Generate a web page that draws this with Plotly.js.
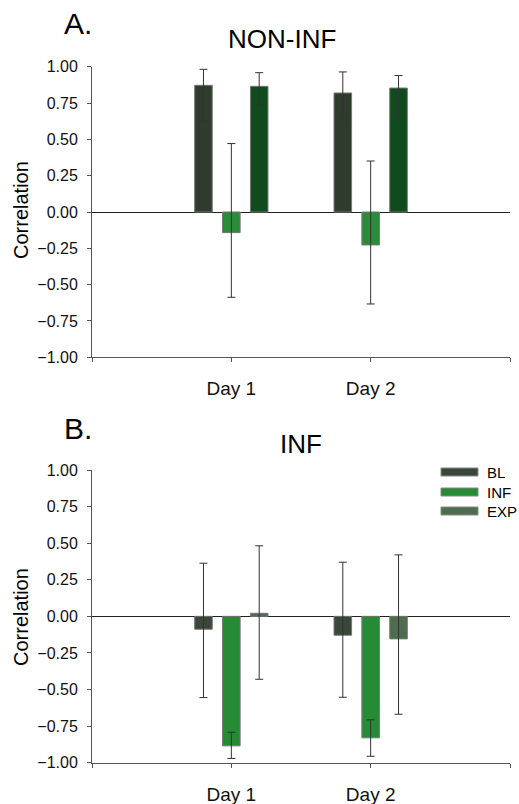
<!DOCTYPE html>
<html>
<head>
<meta charset="utf-8">
<script src="https://cdn.plot.ly/plotly-3.0.1.min.js"></script>
<style>html,body{margin:0;padding:0;background:#fff;}#chart{width:519px;height:804px;}</style>
</head>
<body>
<div id="chart"></div>
<script>
const categories = ['Day 1', 'Day 2'];
const seriesNames = ['BL', 'INF', 'EXP'];

// Panel A: NON-INF
const nonInfBL = [0.872, 0.819];
const nonInfBLUpper = [0.982, 0.964];
const nonInfBLLower = [0.624, 0.636];
const nonInfINF = [-0.142, -0.227];
const nonInfINFUpper = [0.471, 0.351];
const nonInfINFLower = [-0.587, -0.633];
const nonInfEXP = [0.865, 0.853];
const nonInfEXPUpper = [0.959, 0.939];
const nonInfEXPLower = [0.734, 0.654];

// Panel B: INF
const infBL = [-0.088, -0.129];
const infBLUpper = [0.363, 0.370];
const infBLLower = [-0.555, -0.553];
const infINF = [-0.885, -0.830];
const infINFUpper = [-0.792, -0.707];
const infINFLower = [-0.971, -0.956];
const infEXP = [0.021, -0.154];
const infEXPUpper = [0.482, 0.420];
const infEXPLower = [-0.430, -0.669];

const colorsA = ['#2e3b2d', '#2a8c38', '#0f4b1d'];
const colorsB = ['#3a463a', '#258b35', '#4e6c4e'];

const FONT = 'Liberation Sans, Arial, sans-serif';
const W = 519, H = 804;
const px = v => v / W;
const py = v => (H - v) / H;

const xIdx = categories.map((_, i) => i);

function trace(name, vals, upper, lower, color, xa, ya) {
  return {
    type: 'bar', name: name, x: xIdx, y: vals, xaxis: xa, yaxis: ya,
    showlegend: false,
    marker: {color: color, line: {color: '#777', width: 1}},
    error_y: {
      type: 'data', symmetric: false,
      array: upper.map((u, i) => u - vals[i]),
      arrayminus: vals.map((v, i) => v - lower[i]),
      color: '#333', thickness: 1, width: 4
    },
    hoverinfo: 'x+y'
  };
}

const data = [
  trace(seriesNames[0], nonInfBL, nonInfBLUpper, nonInfBLLower, colorsA[0], 'x', 'y'),
  trace(seriesNames[1], nonInfINF, nonInfINFUpper, nonInfINFLower, colorsA[1], 'x', 'y'),
  trace(seriesNames[2], nonInfEXP, nonInfEXPUpper, nonInfEXPLower, colorsA[2], 'x', 'y'),
  trace(seriesNames[0], infBL, infBLUpper, infBLLower, colorsB[0], 'x2', 'y2'),
  trace(seriesNames[1], infINF, infINFUpper, infINFLower, colorsB[1], 'x2', 'y2'),
  trace(seriesNames[2], infEXP, infEXPUpper, infEXPLower, colorsB[2], 'x2', 'y2')
];

function xaxis(anchor) {
  return {
    anchor: anchor, domain: [px(92), px(510)], range: [-1, 2],
    tickmode: 'array', tickvals: [-1, 0, 1, 2], ticktext: ['', categories[0], categories[1], ''],
    ticks: 'outside', ticklen: 4, tickcolor: '#555', tickwidth: 1,
    showline: true, linecolor: '#555', linewidth: 1,
    showgrid: false, zeroline: false, automargin: false,
    tickfont: {family: FONT, size: 19, color: '#111'}, ticklabelstandoff: 10
  };
}
function yaxis(anchor, top, bottom) {
  return {
    anchor: anchor, domain: [py(bottom), py(top)], range: [-1, 1],
    tickmode: 'linear', tick0: -1, dtick: 0.25, tickformat: '.2f',
    ticks: 'outside', ticklen: 4, tickcolor: '#555', tickwidth: 1,
    showline: true, linecolor: '#555', linewidth: 1,
    showgrid: false, zeroline: true, zerolinecolor: '#222', zerolinewidth: 1,
    automargin: false,
    tickfont: {family: FONT, size: 16, color: '#111'}, ticklabelstandoff: 6
  };
}

const annotations = [
  {text: 'A.', x: px(62), y: py(24), xanchor: 'left', yanchor: 'middle', font: {family: FONT, size: 30, color: '#000'}},
  {text: 'NON-INF', x: px(282), y: py(39), xanchor: 'center', yanchor: 'middle', font: {family: FONT, size: 26, color: '#000'}},
  {text: 'B.', x: px(62), y: py(429), xanchor: 'left', yanchor: 'middle', font: {family: FONT, size: 30, color: '#000'}},
  {text: 'INF', x: px(300.5), y: py(444), xanchor: 'center', yanchor: 'middle', font: {family: FONT, size: 26, color: '#000'}},
  {text: 'Correlation', x: px(21), y: py(210), textangle: -90, xanchor: 'center', yanchor: 'middle', font: {family: FONT, size: 20, color: '#000'}},
  {text: 'Correlation', x: px(21), y: py(617), textangle: -90, xanchor: 'center', yanchor: 'middle', font: {family: FONT, size: 20, color: '#000'}}
].map(a => Object.assign({xref: 'paper', yref: 'paper', showarrow: false}, a));

const shapes = [];
const legendY = [472, 492, 511];
seriesNames.forEach((name, i) => {
  shapes.push({type: 'rect', xref: 'paper', yref: 'paper',
    x0: px(441), x1: px(478), y0: py(legendY[i] + 4), y1: py(legendY[i] - 4),
    fillcolor: colorsB[i], line: {color: '#888', width: 1}});
  annotations.push({xref: 'paper', yref: 'paper', showarrow: false, text: name,
    x: px(485), y: py(legendY[i]), xanchor: 'left', yanchor: 'middle',
    font: {family: FONT, size: 15, color: '#000'}});
});

const layout = {
  width: W, height: H,
  margin: {l: 0, r: 0, t: 0, b: 0},
  paper_bgcolor: '#fff', plot_bgcolor: '#fff',
  barmode: 'group', bargap: 0.4, bargroupgap: 0.37,
  showlegend: false,
  xaxis: xaxis('y'), yaxis: yaxis('x', 66.7, 357.3),
  xaxis2: xaxis('y2'), yaxis2: yaxis('x2', 470, 762.7),
  annotations: annotations, shapes: shapes,
  font: {family: FONT}
};

Plotly.newPlot('chart', data, layout, {displayModeBar: false, staticPlot: true});
</script>
</body>
</html>
